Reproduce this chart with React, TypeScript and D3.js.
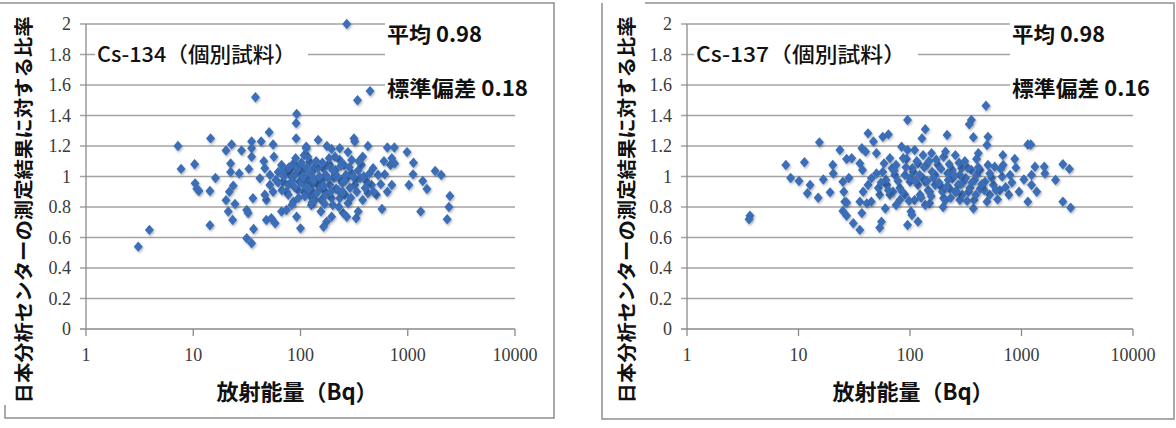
import React from 'react';
import * as d3 from 'd3';

// 読み取り値: [放射能量 (Bq), 比率]
const cs134Points: [number, number][] = [
  [38, 1.52], [92, 1.41], [91, 1.35], [91, 1.25], [51, 1.29], [7.2, 1.2], [14.5, 1.25], [7.7, 1.05],
  [10.3, 1.08], [3.9, 0.65], [3.07, 0.54], [10.4, 0.955], [10.8, 0.92], [11.3, 0.905], [14.3, 0.905],
  [16.1, 0.99], [14.3, 0.68], [20.2, 1.17], [22.8, 1.21], [28.2, 1.17], [35, 1.23], [35, 1.185], [35, 1.13],
  [43, 1.23], [55.5, 1.21], [22.3, 1.085], [22.3, 1.03], [26.8, 1.02], [33, 1.05], [23.6, 0.94], [21.7, 0.9],
  [20.2, 0.845], [24.5, 0.82], [21.2, 0.77], [23.3, 0.715], [31.5, 0.78], [36, 0.857], [32.5, 0.76],
  [36.5, 0.656], [31.5, 0.595], [35, 0.562], [48, 0.715], [53.5, 0.726], [58, 0.693], [48, 0.846],
  [46.5, 0.88], [41.8, 0.988], [45.5, 1.1], [46.5, 1.054], [56.5, 1.13], [51.8, 0.944], [55.5, 0.9],
  [66.5, 0.77], [74, 0.78], [86, 0.835], [92, 0.736], [100, 0.66], [66.5, 1.075], [69, 0.966], [77, 0.944],
  [82, 1.054], [98, 1.03], [98, 0.966], [108, 1.14], [113, 1.195], [122, 1.097], [108, 0.9], [126, 0.944],
  [74, 0.9], [80, 1.01], [62, 1.03], [52, 1.01], [86, 1.086], [130, 0.857],
  [445, 1.56], [340, 1.5], [146, 1.24], [315, 1.25], [320, 1.23], [176, 1.2], [195, 1.18], [232, 1.185],
  [277, 1.16], [425, 1.2], [645, 1.19], [750, 1.19], [985, 1.16], [1130, 1.09], [1120, 1.014], [1025, 0.944],
  [1380, 0.97], [1510, 0.918], [1800, 1.036], [2050, 1.01], [2470, 0.872], [2420, 0.8], [2330, 0.72],
  [1320, 0.77], [710, 1.12], [690, 1.075], [755, 1.086], [610, 1.014], [710, 0.944], [645, 0.9], [575, 0.787],
  [510, 0.88], [530, 1.01], [475, 1.054], [380, 1.13], [370, 1.075], [345, 1.04], [300, 1.02], [270, 0.988],
  [232, 1.108], [210, 1.13], [188, 1.075], [163, 1.054], [136, 1.064], [117, 1.13], [113, 1.185], [122, 0.966],
  [146, 0.944], [170, 0.9], [157, 0.846], [155, 0.77], [195, 0.857], [215, 0.92], [240, 0.977], [260, 0.88],
  [277, 0.824], [250, 0.76], [270, 0.736], [330, 0.726], [345, 0.77], [380, 0.846], [425, 0.89], [460, 0.944],
  [415, 0.966], [320, 0.944], [175, 0.704], [164, 0.67], [195, 0.736], [210, 1.01], [130, 0.9], [126, 0.813],
  [270, 2.0],
  [98, 1.075], [108, 1.043], [117, 0.99], [128, 1.03], [145, 1.055], [158, 0.977], [172, 1.01], [188, 0.944],
  [205, 0.99], [225, 0.91], [245, 0.957], [265, 1.01], [290, 0.925], [330, 0.977], [89, 1.01], [95, 0.91],
  [104, 0.957], [122, 0.88], [136, 0.846], [152, 0.925], [172, 0.88], [200, 0.813], [232, 0.857], [77, 0.88],
  [83, 0.813], [67, 0.91], [59, 0.977], [73, 1.043], [90, 1.12], [108, 0.944], [133, 0.964], [180, 1.075],
  [212, 1.043], [255, 1.075], [300, 1.108], [360, 0.99], [400, 0.925], [68, 1.03],
  [62, 0.96], [70, 1.0], [78, 1.06], [84, 0.97], [88, 0.93], [94, 1.05], [96, 0.86], [102, 1.09], [106, 1.0],
  [110, 0.87], [114, 1.06], [119, 0.92], [124, 1.02], [128, 0.83], [134, 0.98], [140, 1.1], [142, 0.89],
  [150, 1.0], [160, 1.09], [165, 0.94], [168, 0.82], [180, 0.99], [185, 1.12], [192, 0.9], [200, 1.04],
  [220, 1.0], [228, 0.8], [238, 1.07], [248, 0.9], [258, 0.97], [285, 1.06], [295, 0.86], [310, 1.0],
  [335, 0.9], [350, 1.1], [390, 1.0], [440, 1.02], [480, 0.9], [560, 0.95], [600, 1.1],
];

const cs137Points: [number, number][] = [
  [3.67, 0.743], [3.6, 0.72], [7.7, 1.075], [8.5, 0.99], [10.1, 0.97], [11.3, 1.093], [15.4, 1.224],
  [12.7, 0.944], [12.0, 0.89], [15, 0.861], [16.7, 0.98], [19.2, 0.896], [20.3, 1.075], [20.5, 1.02],
  [23.5, 1.174], [27, 1.115], [30, 1.12], [25, 0.966], [25.5, 0.9], [28.3, 0.99], [26, 0.835], [25, 0.774],
  [27, 0.743], [31, 0.693], [35.5, 0.65], [37, 0.76], [35.5, 0.835], [27, 0.83], [41, 0.824], [45, 0.835],
  [55.5, 0.704], [53.5, 0.664], [60, 0.79], [38, 0.9], [42, 0.944], [45, 0.988], [50, 1.02], [35.5, 1.086],
  [37.5, 1.043], [37, 1.185], [40, 1.163], [42, 1.283], [47, 1.23], [50, 1.152], [57, 1.26], [64, 1.276],
  [58.5, 1.086], [66, 1.12], [69, 1.054], [62, 0.944], [70.5, 0.9], [81, 0.846], [84, 1.195], [95, 1.37],
  [95, 1.174], [93, 1.115], [95, 0.682], [100, 0.966], [90, 1.01], [102, 0.77], [75, 0.813], [53.5, 0.88],
  [480, 1.464], [355, 1.37], [340, 1.342], [137, 1.31], [128, 1.25], [215, 1.272], [370, 1.257], [500, 1.26],
  [490, 1.207], [1140, 1.21], [1210, 1.21], [410, 1.152], [395, 1.115], [680, 1.14], [870, 1.115],
  [500, 1.075], [575, 1.064], [685, 1.075], [890, 1.058], [1320, 1.064], [1600, 1.064], [1620, 1.02],
  [2350, 1.08], [2690, 1.05], [2020, 0.977], [1230, 1.01], [1230, 0.944], [1370, 0.9], [1140, 0.835],
  [790, 1.01], [670, 0.999], [770, 0.88], [640, 0.91], [2350, 0.835], [2760, 0.795], [370, 0.79],
  [490, 0.835], [118, 0.704], [104, 0.748], [156, 1.152], [131, 1.14], [200, 1.13], [255, 1.14], [208, 1.163],
  [118, 1.086], [140, 1.075], [290, 1.054], [355, 1.043], [240, 0.988], [300, 0.966], [185, 0.944],
  [150, 0.9], [123, 0.88], [200, 0.857], [280, 0.846], [150, 0.824], [425, 0.92], [470, 0.966], [560, 0.944],
  [520, 0.88], [100, 0.988], [107, 1.03], [168, 1.01], [218, 1.02], [137, 0.966], [228, 0.92], [335, 0.9],
  [395, 1.01],
  [73, 1.01], [81, 0.925], [90, 0.88], [105, 1.055], [118, 0.944], [130, 0.99], [145, 0.91], [168, 0.944],
  [178, 1.075], [195, 0.9], [220, 0.977], [240, 1.043], [270, 0.944], [295, 0.88], [316, 0.99], [345, 0.925],
  [380, 0.977], [425, 1.043], [465, 0.91], [540, 0.99], [590, 0.91], [66, 0.88], [61, 0.977], [75, 1.075],
  [110, 0.846], [137, 0.813], [158, 1.03], [208, 0.846], [255, 0.9], [280, 1.01], [330, 1.055], [375, 0.846],
  [52, 0.925], [57, 1.03], [87, 1.12], [110, 1.174],
  [55, 0.96], [64, 0.91], [72, 1.04], [78, 0.97], [85, 0.9], [92, 1.06], [98, 0.84], [112, 0.97], [115, 1.1],
  [122, 1.01], [126, 0.86], [134, 1.06], [142, 0.97], [148, 1.1], [155, 0.87], [162, 0.99], [172, 1.11],
  [182, 0.96], [190, 1.05], [198, 0.8], [212, 0.93], [225, 1.08], [232, 0.86], [248, 1.01], [262, 0.9],
  [275, 1.09], [285, 0.95], [310, 1.1], [325, 0.84], [360, 0.96], [390, 0.88], [410, 1.06], [440, 0.95],
  [520, 1.02], [610, 0.85], [650, 1.05], [720, 0.93], [820, 0.96], [950, 0.9], [1050, 0.98],
];

const xTickValues = [1, 10, 100, 1000, 10000];
const yTickValues = [0, 0.2, 0.4, 0.6, 0.8, 1, 1.2, 1.4, 1.6, 1.8, 2];
const yAxisTitle = '日本分析センターの測定結果に対する比率';
const xAxisTitle = '放射能量（Bq）';

const W = 1176;
const H = 428;
const TOP = 24;
const BOTTOM = 329;
const MARKER = '#3a6eb7';
const GRID = '#a3a3a3';
const FRAME = '#8f8f8f';
const JP = '"Noto Sans CJK JP", "Noto Sans", sans-serif';
const SERIF = '"Liberation Serif", "DejaVu Serif", serif';

type PanelProps = {
  points: [number, number][];
  title: string;
  mean: string;
  sd: string;
  plotL: number;
  plotR: number;
  titleX: number;
  titleW: number;
  annX: number;
  meanW: number;
  sdW: number;
  xTitleX: number;
  yTitleX: number;
  frame: string; // 枠線のパス
};

function Panel(p: PanelProps) {
  const { points, plotL, plotR } = p;
  const x = d3.scaleLog().domain([1, 10000]).range([plotL, plotR]);
  const y = d3.scaleLinear().domain([0, 2]).range([BOTTOM, TOP]);
  const diamond = 'M0,-5.2L4.5,0L0,5.2L-4.5,0Z';

  return (
    <g>
      <path d={p.frame} fill="none" stroke={FRAME} strokeWidth={1.5} />
      {/* 目盛線 */}
      {yTickValues.map((v) => (
        <g key={'g' + v}>
          <line x1={plotL - 6} x2={plotR} y1={y(v)} y2={y(v)} stroke={v === 0 ? '#8a8a8a' : GRID} strokeWidth={1.4} />
          <text x={plotL - 15} y={y(v)} dy="0.35em" textAnchor="end" fontFamily={SERIF} fontSize={18} fill="#3a3a3a">
            {v === 0 || v === 1 || v === 2 ? String(v) : v.toFixed(1)}
          </text>
        </g>
      ))}
      <line x1={plotL} x2={plotL} y1={TOP} y2={BOTTOM} stroke="#8a8a8a" strokeWidth={1.3} />
      {xTickValues.map((v) => (
        <g key={'x' + v}>
          <line x1={x(v)} x2={x(v)} y1={BOTTOM} y2={BOTTOM + 7} stroke="#8a8a8a" strokeWidth={1.3} />
          <text x={x(v)} y={361} textAnchor="middle" fontFamily={SERIF} fontSize={18} fill="#3a3a3a">
            {String(v)}
          </text>
        </g>
      ))}

      {/* ラベルの白背景 */}
      <rect x={p.titleX - 2} y={38} width={p.titleW + 14} height={30} fill="#fff" />
      <rect x={p.annX - 2} y={12} width={plotR - p.annX + 40} height={92} fill="#fff" />

      <text x={p.titleX} y={62} fontFamily={JP} fontSize={21} fontWeight={500} fill="#111"
        textLength={p.titleW} lengthAdjust="spacingAndGlyphs">{p.title}</text>
      <text x={p.annX} y={42} fontFamily={JP} fontSize={21} fontWeight={700} fill="#111"
        textLength={p.meanW} lengthAdjust="spacingAndGlyphs">{p.mean}</text>
      <text x={p.annX} y={96} fontFamily={JP} fontSize={21} fontWeight={700} fill="#111"
        textLength={p.sdW} lengthAdjust="spacingAndGlyphs">{p.sd}</text>

      {points.map(([bq, r], i) => (
        <path key={i} d={diamond} transform={`translate(${x(bq)},${y(r)})`} fill={MARKER} filter="url(#shadow)" />
      ))}

      <text x={p.xTitleX} y={400} textAnchor="middle" fontFamily={JP} fontSize={22} fontWeight={700} fill="#111">
        {xAxisTitle}
      </text>
      <text
        transform={`translate(${p.yTitleX},210) rotate(-90)`}
        textAnchor="middle"
        dy="0.35em"
        fontFamily={JP}
        fontSize={19}
        fontWeight={700}
        fill="#111"
        textLength={387}
        lengthAdjust="spacingAndGlyphs"
      >
        {yAxisTitle}
      </text>
    </g>
  );
}

export default function App() {
  return (
    <svg width={W} height={H} style={{ position: 'absolute', left: 0, top: 0, background: '#fff' }}>
      <defs>
        <filter id="shadow" x="-50%" y="-50%" width="200%" height="200%">
          <feDropShadow dx={1} dy={1.5} stdDeviation={1} floodColor="#000" floodOpacity={0.3} />
        </filter>
      </defs>
      <rect width={W} height={H} fill="#fff" />
      <Panel
        points={cs134Points}
        title="Cs-134（個別試料）"
        mean="平均 0.98"
        sd="標準偏差 0.18"
        plotL={86}
        plotR={515}
        titleX={97}
        titleW={199}
        annX={387}
        meanW={95}
        sdW={141}
        xTitleX={297}
        yTitleX={24}
        frame="M0,3H554V418H5V405"
      />
      <Panel
        points={cs137Points}
        title="Cs-137（個別試料）"
        mean="平均 0.98"
        sd="標準偏差 0.16"
        plotL={687}
        plotR={1133}
        titleX={696}
        titleW={210}
        annX={1012}
        meanW={93}
        sdW={138}
        xTitleX={913}
        yTitleX={627}
        frame="M645,3H1174V419H602V3"
      />
    </svg>
  );
}
